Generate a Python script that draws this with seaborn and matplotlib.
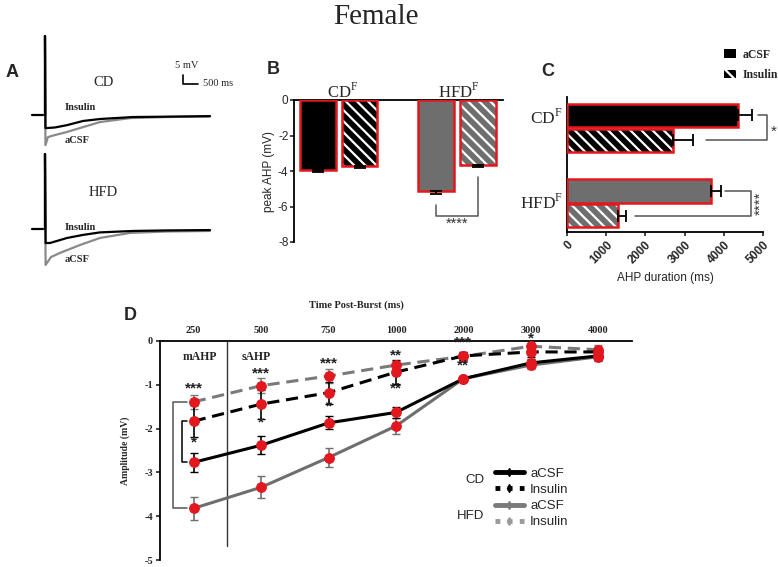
"""
Female AHP figure: traces, peak AHP, AHP duration, amplitude over time
"""

import numpy as np
import pandas as pd
import seaborn as sns
import matplotlib.pyplot as plt
from matplotlib.patches import Rectangle, Patch
from matplotlib.lines import Line2D
from matplotlib.container import BarContainer

W, H = 778, 567
SERIF = ['Liberation Serif', 'DejaVu Serif']
SANS = ['Liberation Sans', 'DejaVu Sans']
RED = '#e3171e'
GRAY = '#6e6e6e'

# A: example traces (ms after burst, mV from baseline)
base_t = [-430, -70]
base_v = [0, 0]
cd_ins_t = [0, 0, 15, 67, 333, 733, 1267, 1833, 2933, 4067, 5500]
cd_ins_v = [0, 43.9, -7.2, -7.2, -6.9, -5.6, -3.3, -2.2, -1.1, -0.9, -0.6]
cd_acsf_t = [0, 0, 15, 100, 333, 733, 1267, 1833, 2833, 4067, 5500]
cd_acsf_v = [0, 43.9, -16.7, -12.2, -11.1, -9.4, -6.7, -3.9, -1.7, -1.1, -0.8]
hfd_ins_t = [0, 0, 20, 167, 733, 1267, 1833, 2933, 4067, 5500]
hfd_ins_v = [0, 41.7, -7.8, -7.8, -5.0, -3.3, -1.9, -1.1, -0.8, -0.6]
hfd_acsf_t = [0, 0, 20, 200, 500, 1167, 1833, 2833, 4067, 5500]
hfd_acsf_v = [0, 41.7, -20.0, -15.6, -13.3, -8.9, -5.0, -2.2, -1.4, -1.1]

# B and C: bar values
groups = ['CD', 'HFD']
treats = ['aCSF', 'Insulin']
peak_ahp = [-3.95, -3.70, -5.15, -3.68]
peak_err = [0.12, 0.15, 0.13, 0.12]
ahp_dur = [4350, 2700, 3670, 1290]
ahp_err = [370, 520, 260, 210]

# D: amplitude over time post-burst
times = ['250', '500', '750', '1000', '2000', '3000', '4000']
cd_acsf = [-2.77, -2.38, -1.87, -1.63, -0.86, -0.50, -0.34]
cd_acsf_err = [0.21, 0.21, 0.15, 0.12, 0.06, 0.10, 0.10]
hfd_acsf = [-3.82, -3.34, -2.66, -1.94, -0.86, -0.55, -0.36]
hfd_acsf_err = [0.26, 0.25, 0.22, 0.18, 0.06, 0.10, 0.10]
cd_ins = [-1.83, -1.44, -1.18, -0.71, -0.34, -0.25, -0.25]
cd_ins_err = [0.36, 0.33, 0.25, 0.28, 0.10, 0.12, 0.12]
hfd_ins = [-1.39, -1.02, -0.80, -0.55, -0.35, -0.12, -0.20]
hfd_ins_err = [0.16, 0.17, 0.15, 0.10, 0.10, 0.12, 0.10]
stars_d = [(0, -1.08, '***'), (0, -2.32, '*'), (1, -0.74, '***'), (1, -1.87, '*'),
           (2, -0.51, '***'), (2, -1.50, '*'), (3, -0.32, '**'), (3, -1.08, '**'),
           (4, -0.03, '***'), (4, -0.55, '**'), (5, 0.06, '*')]

sns.set_theme(style='white')
plt.rcParams['font.family'] = SANS
plt.rcParams['hatch.linewidth'] = 1.6
plt.rcParams['axes.linewidth'] = 1.3
plt.rcParams['axes.unicode_minus'] = False

fig = plt.figure(figsize=(W / 100, H / 100), dpi=100)


def box(x0, y0, x1, y1):
    return [x0 / W, 1 - y1 / H, (x1 - x0) / W, (y1 - y0) / H]


def ftext(x, y, s, **kw):
    kw.setdefault('ha', 'center')
    kw.setdefault('va', 'center')
    fig.text(x / W, 1 - y / H, s, **kw)


ftext(376, 17, 'Female', fontsize=21, family=SERIF)
for lab, x, y in [('A', 12, 73), ('B', 273, 70), ('C', 548, 71), ('D', 130, 315)]:
    ftext(x, y, lab, fontsize=13, weight='bold')

# ---- A ----
def trace_axes(rect, ylim, ins_t, ins_v, acsf_t, acsf_v):
    ax = fig.add_axes(rect)
    sns.lineplot(x=base_t, y=base_v, color='black', lw=1.6, ax=ax)
    sns.lineplot(x=acsf_t, y=acsf_v, estimator=None, sort=False, color='#8a8a8a', lw=1.6, ax=ax)
    sns.lineplot(x=ins_t, y=ins_v, estimator=None, sort=False, color='black', lw=1.6, ax=ax)
    ax.set_xlim(-833, 5667)
    ax.set_ylim(*ylim)
    ax.axis('off')
    return ax


ax_a1 = trace_axes(box(20, 30, 215, 150), (-19.4, 47.2), cd_ins_t, cd_ins_v, cd_acsf_t, cd_acsf_v)
ax_a2 = trace_axes(box(20, 150, 215, 270), (-22.8, 43.9), hfd_ins_t, hfd_ins_v, hfd_acsf_t, hfd_acsf_v)
ax_a1.plot([4600, 4600, 5100], [22.2, 17.2, 17.2], color='black', lw=1.2)
ftext(104, 83, 'CD', fontsize=10.5, family=SERIF)
ftext(103, 192, 'HFD', fontsize=10.5, family=SERIF)
for y in (108, 228):
    ftext(80, y, 'Insulin', fontsize=7.5, family=SERIF, weight='bold')
for y in (141, 259):
    ftext(77, y, 'aCSF', fontsize=7.5, family=SERIF, weight='bold')
ftext(187, 66, '5 mV', fontsize=7.5, family=SERIF)
ftext(203, 84, '500 ms', fontsize=7.5, family=SERIF, ha='left')


def style_bar(ax, bar, face, hatched):
    bar.set_facecolor(face)
    bar.set_linewidth(0)
    if hatched:
        bar.set_hatch('\\\\\\')
        bar.set_edgecolor('white')
    ax.add_patch(Rectangle(bar.get_xy(), bar.get_width(), bar.get_height(),
                           fill=False, edgecolor=RED, lw=1.8, zorder=3))


def bar_list(ax):
    return [b for c in ax.containers if isinstance(c, BarContainer) for b in c]


bar_df = pd.DataFrame({'group': np.repeat(groups, 2), 'treat': treats * 2,
                       'amp': peak_ahp, 'amp_err': peak_err,
                       'dur': ahp_dur, 'dur_err': ahp_err})
faces = {'CD': 'black', 'HFD': GRAY}

# ---- B ----
ax_b = fig.add_axes(box(294, 100, 503, 242))
sns.barplot(data=bar_df, x='group', y='amp', hue='treat', order=groups, hue_order=treats,
            errorbar=None, width=0.71, gap=0.16, legend=False, ax=ax_b)
b_centers = {}
for bar in bar_list(ax_b):
    xc = bar.get_x() + bar.get_width() / 2
    g = groups[int(round(xc))]
    t = treats[0] if xc < round(xc) else treats[1]
    row = bar_df[(bar_df.group == g) & (bar_df.treat == t)].iloc[0]
    style_bar(ax_b, bar, faces[g], t == 'Insulin')
    ax_b.errorbar(xc, row.amp, yerr=[[row.amp_err], [0]], color='black',
                  capsize=4.5, lw=1.3, capthick=1.3, zorder=4)
    b_centers[(g, t)] = xc
ax_b.set_xlim(-0.38, 1.39)
ax_b.set_ylim(-8, 0)
ax_b.set_yticks([0, -2, -4, -6, -8])
ax_b.set_xticks([])
ax_b.set_xlabel('')
ax_b.set_ylabel('peak AHP (mV)', fontsize=8.5, labelpad=2)
ax_b.tick_params(axis='y', left=True, length=3, width=1.2, labelsize=8.5, pad=1)
for s in ('right', 'bottom'):
    ax_b.spines[s].set_visible(False)
for s in ('left', 'top'):
    ax_b.spines[s].set_color('black')
xa, xi = b_centers[('HFD', 'aCSF')], b_centers[('HFD', 'Insulin')]
ax_b.plot([xa, xa, xi, xi], [-5.9, -6.54, -6.54, -4.34], color='#555555', lw=1.1, clip_on=False)
ax_b.text((xa + xi) / 2, -6.95, '****', ha='center', va='center', fontsize=10.5, color='#333333')
ftext(343, 92, 'CD$^\\mathregular{F}$', fontsize=12, family=SERIF)
ftext(459, 92, 'HFD$^\\mathregular{F}$', fontsize=12, family=SERIF)

# ---- C ----
ax_c = fig.add_axes(box(567, 97, 763, 232))
sns.barplot(data=bar_df, y='group', x='dur', hue='treat', order=groups, hue_order=treats,
            orient='h', errorbar=None, width=0.66, gap=0.06, legend=False, ax=ax_c)
c_centers = {}
for bar in bar_list(ax_c):
    yc = bar.get_y() + bar.get_height() / 2
    g = groups[int(round(yc))]
    t = treats[0] if yc < round(yc) else treats[1]
    row = bar_df[(bar_df.group == g) & (bar_df.treat == t)].iloc[0]
    style_bar(ax_c, bar, faces[g], t == 'Insulin')
    ax_c.errorbar(row.dur, yc, xerr=[[0], [row.dur_err]], color='black',
                  capsize=4.5, lw=1.3, capthick=1.3, zorder=4)
    c_centers[(g, t)] = yc
ax_c.set_xlim(0, 5000)
ax_c.set_ylim(1.38, -0.41)
ax_c.set_yticks([])
ax_c.set_ylabel('')
ax_c.set_xticks([0, 1000, 2000, 3000, 4000, 5000])
ax_c.set_xticklabels(['0', '1000', '2000', '3000', '4000', '5000'], rotation=45,
                     ha='right', va='top', rotation_mode='anchor', weight='bold')
ax_c.tick_params(axis='x', bottom=True, length=3, width=1.2, labelsize=8.5, pad=2)
ax_c.set_xlabel('AHP duration (ms)', fontsize=8.5, labelpad=4)
for s in ('right', 'top'):
    ax_c.spines[s].set_visible(False)
for s in ('left', 'bottom'):
    ax_c.spines[s].set_color('black')
ya, yi = c_centers[('CD', 'aCSF')], c_centers[('CD', 'Insulin')]
ax_c.plot([4870, 5100, 5100, 3550], [ya, ya, yi, yi], color='#555555', lw=1.1, clip_on=False)
ax_c.text(5270, (ya + yi) / 2 + 0.05, '*', ha='center', va='center', fontsize=11, color='#333333')
ya, yi = c_centers[('HFD', 'aCSF')], c_centers[('HFD', 'Insulin')]
ax_c.plot([4030, 4690, 4690, 1730], [ya, ya, yi, yi], color='#555555', lw=1.1, clip_on=False)
ax_c.text(4930, (ya + yi) / 2, '****', ha='center', va='center', fontsize=11,
          rotation=90, color='#333333')
ftext(563, 118, 'CD$^\\mathregular{F}$', fontsize=12.5, family=SERIF, ha='right')
ftext(563, 203, 'HFD$^\\mathregular{F}$', fontsize=12.5, family=SERIF, ha='right')
leg_c = [Patch(facecolor='black', edgecolor='black', lw=0),
         Patch(facecolor='black', edgecolor='white', hatch='\\\\\\', lw=0)]
fig.legend(leg_c, treats, loc='upper left', bbox_to_anchor=(718 / W, 1 - 43 / H),
           frameon=False, handlelength=1.0, handleheight=0.75, handletextpad=0.6,
           labelspacing=0.7, borderpad=0, prop={'family': SERIF, 'weight': 'bold', 'size': 8.5})

# ---- D ----
ax_d = fig.add_axes(box(160, 341, 632, 560))
xpos = np.arange(len(times))
series = [(hfd_ins, hfd_ins_err, '#7a7a7a', (0, (4, 2.2))),
          (cd_ins, cd_ins_err, 'black', (0, (4, 2.2))),
          (hfd_acsf, hfd_acsf_err, GRAY, '-'),
          (cd_acsf, cd_acsf_err, 'black', '-')]
for vals, errs, col, ls in series:
    ax_d.errorbar(xpos, vals, yerr=errs, fmt='none', ecolor=col, capsize=3, lw=1.2, zorder=2)
    sns.lineplot(x=xpos, y=vals, color=col, lw=2.2, linestyle=ls, marker='o', markersize=7,
                 markerfacecolor=RED, markeredgecolor=RED, ax=ax_d, zorder=3)
ax_d.set_xlim(-0.5, 6.5)
ax_d.set_ylim(-5, 0)
ax_d.xaxis.tick_top()
ax_d.set_xticks(xpos, times)
ax_d.set_yticks([0, -1, -2, -3, -4, -5])
for lab in ax_d.get_xticklabels() + ax_d.get_yticklabels():
    lab.set_family(SERIF)
    lab.set_weight('bold')
ax_d.tick_params(axis='x', top=False, bottom=False, length=0, labelsize=7.5, pad=4)
ax_d.tick_params(axis='y', left=True, length=3, width=1.2, labelsize=7.5, pad=2)
ax_d.set_ylabel('Amplitude (mV)', family=SERIF, weight='bold', fontsize=7, labelpad=10)
for s in ('right', 'bottom'):
    ax_d.spines[s].set_visible(False)
for s in ('left', 'top'):
    ax_d.spines[s].set_color('black')
ax_d.plot([0.49, 0.49], [0, -4.67], color='#333333', lw=1.0)
ax_d.plot([-0.10, -0.30, -0.30, -0.10], [hfd_ins[0], hfd_ins[0], hfd_acsf[0], hfd_acsf[0]],
          color='#555555', lw=1.1, clip_on=False)
ax_d.plot([-0.10, -0.18, -0.18, -0.10], [cd_ins[0], cd_ins[0], cd_acsf[0], cd_acsf[0]],
          color='black', lw=1.1, clip_on=False)
for xi, yi, s in stars_d:
    ax_d.text(xi, yi, s, ha='center', va='center', fontsize=11, weight='bold', color='#222222')
ax_d.text(0.09, -0.36, 'mAHP', ha='center', va='center', family=SERIF, weight='bold', fontsize=8.5)
ax_d.text(0.93, -0.36, 'sAHP', ha='center', va='center', family=SERIF, weight='bold', fontsize=8.5)
ftext(356, 305, 'Time Post-Burst (ms)', family=SERIF, weight='bold', fontsize=7.5)

leg_d = [Line2D([0], [0], color='black', lw=3.5, marker='d', markersize=4),
         Line2D([0], [0], color='black', lw=3.5, ls=(0, (1, 1.5)), marker='d', markersize=4),
         Line2D([0], [0], color='#7a7a7a', lw=3.5, marker='d', markersize=4),
         Line2D([0], [0], color='#9a9a9a', lw=3.5, ls=(0, (1, 1.5)), marker='d', markersize=4)]
fig.legend(leg_d, ['aCSF', 'Insulin', 'aCSF', 'Insulin'], loc='upper left',
           bbox_to_anchor=(488 / W, 1 - 461 / H), frameon=False, handlelength=2.2,
           handletextpad=0.5, labelspacing=0.3, borderpad=0, prop={'size': 9.5})
ftext(484, 480, 'CD', fontsize=9.5, ha='right')
ftext(484, 516, 'HFD', fontsize=9.5, ha='right')

fig.savefig('out.png', dpi=100)
